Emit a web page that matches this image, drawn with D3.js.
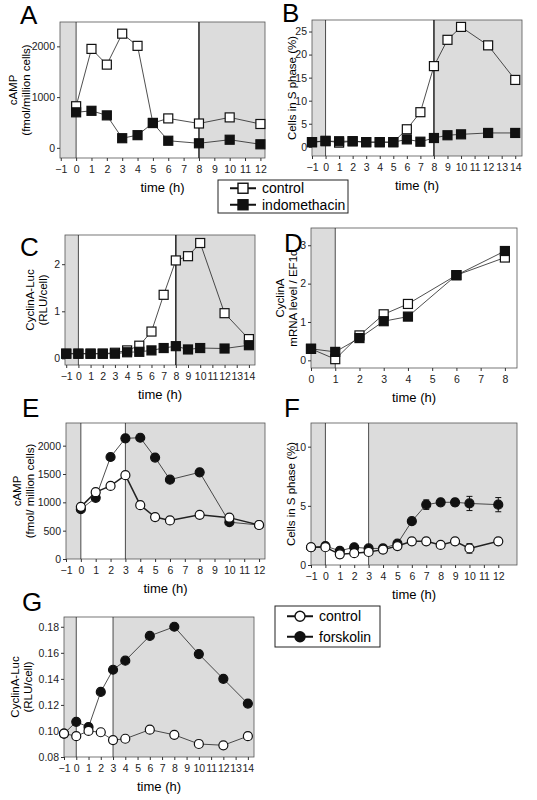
<!DOCTYPE html>
<html><head><meta charset="utf-8">
<script src="https://cdn.jsdelivr.net/npm/d3@7"></script>
<style>
body{margin:0;background:#fff;font-family:"Liberation Sans",Arial,sans-serif}
text{font-family:"Liberation Sans",Arial,sans-serif}
</style></head><body>
<script>
'use strict'
// data
var hoursA = [0,1,2,3,4,5,6,8,10,12]
var aControl = [820,1950,1640,2250,2010,490,580,480,600,470]
var aIndo = [700,730,640,190,250,490,140,90,160,70]
var hoursB = [-1,0,1,2,3,4,5,6,7,8,9,10,12,14]
var bControl = [1,1.3,0.9,1.2,1,1,1,3.8,7.5,17.5,23.2,26,22,14.5]
var bIndo = [1,1.2,1.2,1.2,1,1,1,1.6,1.1,1.9,2.5,2.7,3,3]
var cControl = [0.1,0.1,0.1,0.1,0.12,0.17,0.27,0.57,1.35,2.08,2.17,2.45,0.96,0.41]
var cIndo = [0.1,0.1,0.1,0.1,0.1,0.13,0.14,0.17,0.22,0.26,0.19,0.22,0.21,0.28]
var hoursD = [0,1,2,3,4,6,8]
var dControl = [0.3,0.03,0.65,1.2,1.47,2.22,2.68]
var dIndo = [0.3,0.22,0.58,1.02,1.14,2.22,2.85]
var eControl = [920,1180,1290,1480,950,740,680,780,730,600]
var eForsk = [880,1080,1800,2130,2140,1790,1400,1530,650,600]
var hoursF = [-1,0,1,2,3,4,5,6,7,8,9,10,12]
var fControl = [1.5,1.5,0.9,1.0,1.1,1.3,1.6,2,2,1.7,2,1.4,2.0]
var fControlErr = [0,0,0.3,0,0,0,0,0,0,0,0,0.4,0]
var fForsk = [1.5,1.6,1.2,1.5,1.4,1.4,1.8,3.7,5.1,5.3,5.3,5.2,5.1]
var fForskErr = [0,0,0,0,0,0,0,0,0.4,0,0.3,0.6,0.6]
var hoursG = [-1,0,1,2,3,4,6,8,10,12,14]
var gControl = [0.098,0.096,0.1,0.099,0.093,0.094,0.101,0.097,0.09,0.089,0.096]
var gForsk = [0.098,0.107,0.103,0.13,0.147,0.154,0.173,0.18,0.159,0.14,0.121]
var ticks12 = d3.range(-1,13)
var ticks14 = d3.range(-1,15)

var svg = d3.select("body").append("svg").attr("width",537).attr("height",800)

function panel(o) {
  var g = svg.append("g")
  var x = d3.scaleLinear().domain(o.xd).range([o.x0,o.x1])
  var y = d3.scaleLinear().domain(o.yd).range([o.y1,o.y0])
  // shading
  o.gray.forEach(function(r) {
    g.append("rect").attr("x",x(r[0])).attr("y",o.y0)
      .attr("width",x(r[1])-x(r[0])).attr("height",o.y1-o.y0).attr("fill","#dcdcdc")
  })
  g.append("rect").attr("x",o.x0).attr("y",o.y0).attr("width",o.x1-o.x0).attr("height",o.y1-o.y0)
    .attr("fill","none").attr("stroke","#555").attr("stroke-width",0.8)
  o.vlines.forEach(function(v) {
    g.append("line").attr("x1",x(v[0])).attr("x2",x(v[0])).attr("y1",o.y0).attr("y2",o.y1)
      .attr("stroke","#222").attr("stroke-width",v[1])
  })
  var ax = g.append("g").attr("transform","translate(0,"+o.y1+")")
    .call(d3.axisBottom(x).tickValues(o.xt).tickSize(3).tickFormat(d3.format("d")))
  var ay = g.append("g").attr("transform","translate("+o.x0+",0)")
    .call(d3.axisLeft(y).tickValues(o.yt).tickSize(3).tickPadding(2).tickFormat(o.yf || d3.format("d")))
  ;[ax,ay].forEach(function(a) {
    a.select(".domain").remove()
    a.selectAll("line").attr("stroke","#333")
    a.selectAll("text").attr("font-size",10.5).attr("fill","#222")
  })
  ax.selectAll("text").attr("dy","0.9em")
  g.append("text").attr("x",(o.x0+o.x1)/2).attr("y",o.y1+34).attr("text-anchor","middle")
    .attr("font-size",13).text("time (h)")
  var lx = o.x0-o.lab
  var yt = g.append("text").attr("transform","translate("+lx+","+((o.y0+o.y1)/2)+") rotate(-90)")
    .attr("text-anchor","middle").attr("font-size",11.5)
  o.ylab.forEach(function(s,i) {
    yt.append("tspan").attr("x",0).attr("dy",i ? "1.1em" : (o.ylab.length>1 ? "-0.25em" : "0.35em")).text(s)
  })
  g.append("text").attr("x",o.lx).attr("y",o.ly).attr("font-size",26).text(o.letter)
  var line = d3.line().x(function(d){return x(d[0])}).y(function(d){return y(d[1])})
  o.series.forEach(function(s) {
    var pts = o.xs.map(function(h,i){return [h,s.v[i]]})
    g.append("path").datum(pts).attr("d",line).attr("fill","none").attr("stroke","#222").attr("stroke-width",s.lw||0.8)
    if (s.err) pts.forEach(function(p,i) {
      var e = s.err[i]; if (!e) return
      var cx = x(p[0])
      g.append("path").attr("d","M"+(cx-3)+","+y(p[1]-e)+"h6M"+cx+","+y(p[1]-e)+"V"+y(p[1]+e)+"M"+(cx-3)+","+y(p[1]+e)+"h6")
        .attr("stroke","#111").attr("fill","none")
    })
    var m = g.selectAll(null).data(pts).enter()
    if (o.shape === "sq") {
      m.append("rect").attr("x",function(d){return x(d[0])-4.5}).attr("y",function(d){return y(d[1])-4.5})
        .attr("width",9).attr("height",9).attr("fill",s.fill).attr("stroke","#111").attr("stroke-width",1.2)
    } else {
      m.append("circle").attr("cx",function(d){return x(d[0])}).attr("cy",function(d){return y(d[1])})
        .attr("r",4.5).attr("fill",s.fill).attr("stroke","#111").attr("stroke-width",1.2)
    }
  })
}

function legend(x0,y0,w,h,names,shape) {
  var g = svg.append("g")
  g.append("rect").attr("x",x0).attr("y",y0).attr("width",w).attr("height",h).attr("fill","#fff").attr("stroke","#222")
  names.forEach(function(n,i) {
    var yy = y0 + h*(i*2+1)/4
    g.append("line").attr("x1",x0+12).attr("x2",x0+38).attr("y1",yy).attr("y2",yy).attr("stroke","#111").attr("stroke-width",2)
    if (shape==="sq") g.append("rect").attr("x",x0+20).attr("y",yy-5).attr("width",10).attr("height",10)
      .attr("fill",i?"#111":"#fff").attr("stroke","#111").attr("stroke-width",1.4)
    else g.append("circle").attr("cx",x0+25).attr("cy",yy).attr("r",5)
      .attr("fill",i?"#111":"#fff").attr("stroke","#111").attr("stroke-width",1.4)
    g.append("text").attr("x",x0+44).attr("y",yy+5).attr("font-size",14).text(n)
  })
}

panel({letter:"A",lx:20,ly:24,x0:60,x1:265,y0:22,y1:158,xd:[-1.05,12.3],yd:[-200,2480],
  xt:[-1,0,1,2,3,4,5,6,7,8,9,10,11,12],yt:[0,1000,2000],gray:[[-1.05,0],[8,12.3]],vlines:[[0,0.8],[8,1.5]],
  ylab:["cAMP","(fmol/million cells)"],lab:40,xs:hoursA,shape:"sq",
  series:[{v:aControl,fill:"#fff"},{v:aIndo,fill:"#111"}]})
panel({letter:"B",lx:282,ly:22,x0:312,x1:522,y0:20,y1:156,xd:[-1,14.5],yd:[-2,27.5],
  xt:ticks14,yt:[0,5,10,15,20,25],gray:[[-1,0],[8,14.5]],vlines:[[0,0.8],[8,1.5]],
  ylab:["Cells in S phase (%)"],lab:20,xs:hoursB,shape:"sq",
  series:[{v:bControl,fill:"#fff"},{v:bIndo,fill:"#111"}]})
legend(218,180,130,33,["control","indomethacin"],"sq")
panel({letter:"C",lx:20,ly:256,x0:65,x1:255,y0:235,y1:365,xd:[-1.1,14.5],yd:[-0.14,2.62],
  xt:ticks14,yt:[0,1,2],gray:[[-1.1,0],[8,14.5]],vlines:[[0,0.8],[8,1.5]],
  ylab:["CyclinA-Luc","(RLU/cell)"],lab:28,xs:hoursB,shape:"sq",
  series:[{v:cControl,fill:"#fff"},{v:cIndo,fill:"#111"}]})
panel({letter:"D",lx:284,ly:252,x0:311,x1:517,y0:228,y1:368,xd:[0,8.5],yd:[-0.2,3.45],
  xt:d3.range(0,9),yt:[0,1,2,3],gray:[[0,1]],vlines:[[1,0.8]],
  ylab:["CyclinA","mRNA level / EF1α"],lab:24,xs:hoursD,shape:"sq",
  series:[{v:dControl,fill:"#fff"},{v:dIndo,fill:"#111"}]})
panel({letter:"E",lx:22,ly:417,x0:66,x1:265,y0:423,y1:559,xd:[-1,12.4],yd:[0,2400],
  xt:ticks12,yt:[0,500,1000,1500,2000],gray:[[-1,0],[3,12.4]],vlines:[[0,0.8],[3,0.8]],
  ylab:["cAMP","(fmol/ million cells)"],lab:42,xs:hoursA,shape:"ci",
  series:[{v:eForsk,fill:"#111"},{v:eControl,fill:"#fff",lw:1.5}]})
panel({letter:"F",lx:284,ly:417,x0:311,x1:517,y0:423,y1:565,xd:[-1,13.3],yd:[0,12],
  xt:ticks12,yt:[0,5,10],gray:[[-1,0],[3,13.3]],vlines:[[0,0.8],[3,0.8]],
  ylab:["Cells in S phase (%)"],lab:20,xs:hoursF,shape:"ci",
  series:[{v:fForsk,fill:"#111",err:fForskErr},{v:fControl,fill:"#fff",lw:1.5,err:fControlErr}]})
panel({letter:"G",lx:22,ly:611,x0:64,x1:254,y0:617,y1:757,xd:[-1,14.5],yd:[0.08,0.1875],
  xt:ticks14,yt:[0.08,0.10,0.12,0.14,0.16,0.18],yf:d3.format(".2f"),gray:[[-1,0],[3,14.5]],vlines:[[0,0.8],[3,0.8]],
  ylab:["CyclinA-Luc","(RLU/cell)"],lab:42,xs:hoursG,shape:"ci",
  series:[{v:gForsk,fill:"#111"},{v:gControl,fill:"#fff"}]})
legend(275,606,105,41,["control","forskolin"],"ci")
</script></body></html>
